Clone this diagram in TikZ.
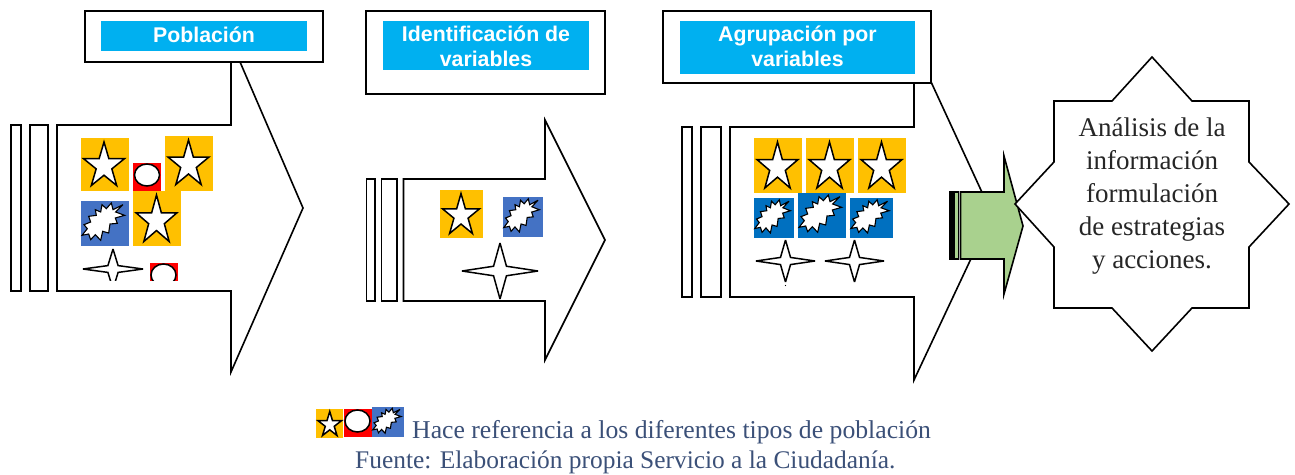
\documentclass[tikz,border=0pt]{standalone}
\usepackage{fontspec}
\setmainfont{Liberation Serif}
\newfontfamily\hdrfont{Liberation Sans}
\definecolor{gold}{HTML}{FFC000}
\definecolor{cyanhdr}{HTML}{00B0F0}
\definecolor{steelb}{HTML}{4472C4}
\definecolor{deepb}{HTML}{0070C0}
\definecolor{capblue}{HTML}{3B5078}
\definecolor{greenarrow}{HTML}{A9D18E}
\tikzset{
  outline/.style={draw=black,line width=1.6pt,fill=white,line join=miter},
  titlebox/.style={draw=black,line width=2pt,fill=white,inner sep=0pt,minimum width=0pt},
  hdrbox/.style={fill=cyanhdr,draw=none,inner sep=0pt},
  hdrtext/.style={text=white,font=\hdrfont\bfseries\fontsize{21.3}{25}\selectfont,align=center,inner sep=0pt},
  icon/.style={draw=black,line width=1.5pt,fill=white,line join=miter},
  thinicon/.style={draw=black,line width=1.1pt,fill=white,line join=miter,miter limit=4},
  captext/.style={text=capblue,inner sep=0pt,anchor=base west}
}
\newcommand\starico[9]{%
  \fill[#1] (#2,#3) rectangle (#4,#5);
  \begin{scope}[shift={(#6,#7)},xscale=#8,yscale=#9]
    \draw[icon,miter limit=4] (.5,0)--(.618,.382)--(1,.382)--(.691,.618)--(.809,1)--(.5,.764)--(.191,1)--(.309,.618)--(0,.382)--(.382,.382)--cycle;
  \end{scope}}
\newcommand\burstico[5]{%
  \fill[#1] (#2,#3) rectangle (#4,#5);
  \begin{scope}[shift={(#2,#3)},xscale=(#4-#2)/144,yscale=(#5-#3)/135]
    \draw[thinicon] (126,11)--(104,33)--(131,43)--(103,51)--(109,67)--(87,69)--(83,96)--(65,91)--(59,118)--(43,101)--(29,116)--(23,99)--(3,103)--(19,83)--(9,71)--(29,63)--(23,46)--(46,43)--(43,26)--(59,33)--(63,11)--(76,23)--(91,6)--(96,26)--cycle;
  \end{scope}}
\newcommand\fourstar[4]{%
  \begin{scope}[shift={(#1,#2)},xscale=#3,yscale=#4]
    \draw[icon,miter limit=3] (0,-1)--(.17,-.17)--(1,0)--(.17,.17)--(0,1)--(-.17,.17)--(-1,0)--(-.17,-.17)--cycle;
  \end{scope}}
\begin{document}
\begin{tikzpicture}[x=1pt,y=-1pt]
\useasboundingbox (0,0) rectangle (1295,474);
% ---- arrow 1
\draw[outline] (11,125) rectangle (21,291);
\draw[outline] (30,125) rectangle (48,291);
\draw[outline] (57,125)--(231,125)--(231,41)--(303,208)--(231,372)--(231,291)--(57,291)--cycle;
% ---- arrow 2
\draw[outline] (366.5,179) rectangle (375,301);
\draw[outline] (381.5,179) rectangle (397,301);
\draw[outline] (403.5,179)--(545,179)--(545,120)--(605,240)--(545,360)--(545,301)--(403.5,301)--cycle;
% ---- arrow 3
\draw[outline] (682,127) rectangle (692,297);
\draw[outline] (701,127) rectangle (721,297);
\draw[outline] (730,127)--(914,127)--(914,45)--(992,214)--(914,380)--(914,297)--(730,297)--cycle;
% ---- title boxes
\node[titlebox,minimum width=238pt,minimum height=51pt] (box1) at (204,36) {};
\node[hdrbox,minimum width=206pt,minimum height=30pt] (hdr1) at (204,36) {};
\node[hdrtext] (txt1) at (204,34.5) {Población};
\node[titlebox,minimum width=239pt,minimum height=83.5pt] (box2) at (485.5,52.5) {};
\node[hdrbox,minimum width=206pt,minimum height=49pt] (hdr2) at (486,45.5) {};
\node[hdrtext] (txt2) at (486,46.5) {Identificación de\\variables};
\node[titlebox,minimum width=268pt,minimum height=72.5pt] (box3) at (797,47) {};
\node[hdrbox,minimum width=235pt,minimum height=53pt] (hdr3) at (797.5,47.5) {};
\node[hdrtext] (txt3) at (797.5,46.5) {Agrupación por\\variables};
% ---- icons arrow 1
\starico{gold}{81}{138}{129}{191}{83.5}{142}{41}{43.5}
\fill[red] (133,163) rectangle (161,191);
\draw[icon] (147,175) ellipse (12.5 and 11);
\starico{gold}{165}{136}{213}{191}{168}{140}{41}{44.5}
\burstico{steelb}{81}{201}{129}{246}
\starico{gold}{133}{191}{181}{246}{136}{195}{41}{46.5}
\begin{scope}
  \clip (70,245) rectangle (200,280);
  \fourstar{113}{269}{30}{20}
  \fill[red] (150,263) rectangle (178,290);
  \draw[icon] (163.5,275) ellipse (12.5 and 11);
\end{scope}
% ---- icons arrow 2
\starico{gold}{440}{190}{483}{238}{442.5}{193.5}{37}{40}
\burstico{steelb}{503}{197}{543}{237}
\fourstar{500}{271}{38}{28}
% ---- icons arrow 3
\starico{gold}{754}{138}{802}{193}{757}{142}{41}{46}
\starico{gold}{806}{138}{854}{193}{809}{142}{41}{46}
\starico{gold}{858}{138}{906}{193}{861}{142}{41}{46}
\burstico{deepb}{754}{198}{794}{238}
\burstico{deepb}{798}{193}{846}{238}
\burstico{deepb}{850}{198}{893}{238}
\fourstar{785.5}{261}{29.5}{21}
\fourstar{854.5}{261}{29.5}{21}
\fill (785.5,285.5) circle (.7);
% ---- green arrow
\draw[black,line width=1.6pt,fill=black] (950,192) rectangle (952.5,259);
\draw[black,line width=1.6pt,fill=greenarrow] (954,192) rectangle (958.5,259);
\draw[black,line width=1.6pt,fill=greenarrow,line join=miter] (960.5,192)--(1004,192)--(1004,156)--(1023,226)--(1004,294)--(1004,259)--(960.5,259)--cycle;
% ---- star
\draw[black,line width=1.6pt,fill=white,line join=miter] (1152,57)--(1192,101)--(1249,101)--(1249,162)--(1289,204)--(1249,247)--(1249,308)--(1192,308)--(1152,351)--(1112,308)--(1054,308)--(1054,247)--(1015,204)--(1054,162)--(1054,101)--(1112,101)--cycle;
\node[align=center,inner sep=0pt,text=black!85,font=\fontsize{27}{33}\selectfont] (analisis) at (1152,196.5) {Análisis de la\\información\\formulación\\de estrategias\\y acciones.};
% ---- legend
\starico{gold}{316}{409}{343}{438}{318}{411.5}{23.5}{24}
\fill[red] (344,409) rectangle (372,437);
\draw[icon] (357.5,421) ellipse (12.5 and 11);
\burstico{steelb}{372}{407}{404}{437}
\node[captext,font=\fontsize{25.7}{26}\selectfont] (cap1) at (412,438) {Hace referencia a los diferentes tipos de población};
\node[captext,font=\fontsize{25.4}{26}\selectfont] (cap2) at (355,468) {Fuente: Elaboración propia Servicio a la Ciudadanía.};
\end{tikzpicture}
\end{document}
